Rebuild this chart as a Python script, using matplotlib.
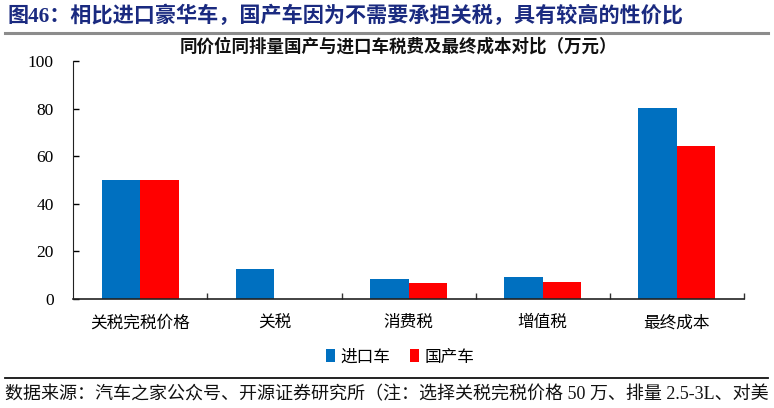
import matplotlib
matplotlib.use("Agg")
import numpy as np
from matplotlib import pyplot as plt
from matplotlib.lines import Line2D

plt.rcParams["font.family"] = ["Liberation Serif", "Noto Sans CJK SC", "DejaVu Sans"]

categories = ["关税完税价格", "关税", "消费税", "增值税", "最终成本"]
imported = [50.0, 12.5, 8.4, 9.2, 80.5]
domestic = [50.0, 0.0, 6.8, 7.3, 64.3]
series_names = ["进口车", "国产车"]
yticks = [0, 20, 40, 60, 80, 100]

blue = "#0070C0"
red = "#FF0000"

fig = plt.figure(figsize=(7.74, 4.08), dpi=100)
ax = fig.add_axes([0.0947, 0.267, 0.8663, 0.583])

x = np.arange(len(categories))
w = 0.286
ax.bar(x - w / 2, imported, w, color=blue, label=series_names[0])
ax.bar(x + w / 2, domestic, w, color=red, label=series_names[1])

ax.set_xlim(-0.5, len(categories) - 0.5)
ax.set_ylim(0, 100)
ax.set_yticks(yticks)
ax.set_yticklabels([str(v) for v in yticks], fontsize=12.5)

# boundary ticks between categories, labels at centers
ax.set_xticks(np.arange(len(categories)) + 0.5)
ax.set_xticklabels([])
ax.set_xticks(x, minor=True)
ax.set_xticklabels(categories, minor=True, fontsize=12, family=["Noto Sans CJK SC"])
ax.tick_params(axis="x", which="major", direction="in", length=4.5, width=1, color="#333333")
ax.tick_params(axis="x", which="minor", length=0, pad=11)
ax.tick_params(axis="y", direction="in", length=4.5, width=1, pad=14)

for s in ["top", "right"]:
    ax.spines[s].set_visible(False)
ax.spines["left"].set_color("#222222")
ax.spines["bottom"].set_color("#222222")
ax.spines["bottom"].set_linewidth(1.2)

ax.legend(loc="center", bbox_to_anchor=(0.517, 0.125), bbox_transform=fig.transFigure,
          ncol=2, frameon=False, handlelength=0.55, handleheight=0.8, handletextpad=0.3,
          columnspacing=1.2, prop={"family": ["Noto Sans CJK SC"], "size": 12})

# figure header and footer
fig.text(0.010, 0.961, "图46：相比进口豪华车，国产车因为不需要承担关税，具有较高的性价比",
         fontsize=15.2, fontweight="bold", color="#1A2A80", va="center", ha="left")
fig.add_artist(Line2D([5 / 774, 768 / 774], [0.919, 0.919], color="#8C8C8C", lw=2.2))
fig.text(0.515, 0.885, "同价位同排量国产与进口车税费及最终成本对比（万元）",
         fontsize=12.6, fontweight="bold", color="#111111", va="center", ha="center")
fig.add_artist(Line2D([5 / 774, 768 / 774], [0.0735, 0.0735], color="#111111", lw=1.3))
fig.text(0.006, 0.032, "数据来源：汽车之家公众号、开源证券研究所（注：选择关税完税价格 50 万、排量 2.5-3L、对美",
         fontsize=13, color="#111111", va="center", ha="left")

fig.savefig("out.png", dpi=100)
